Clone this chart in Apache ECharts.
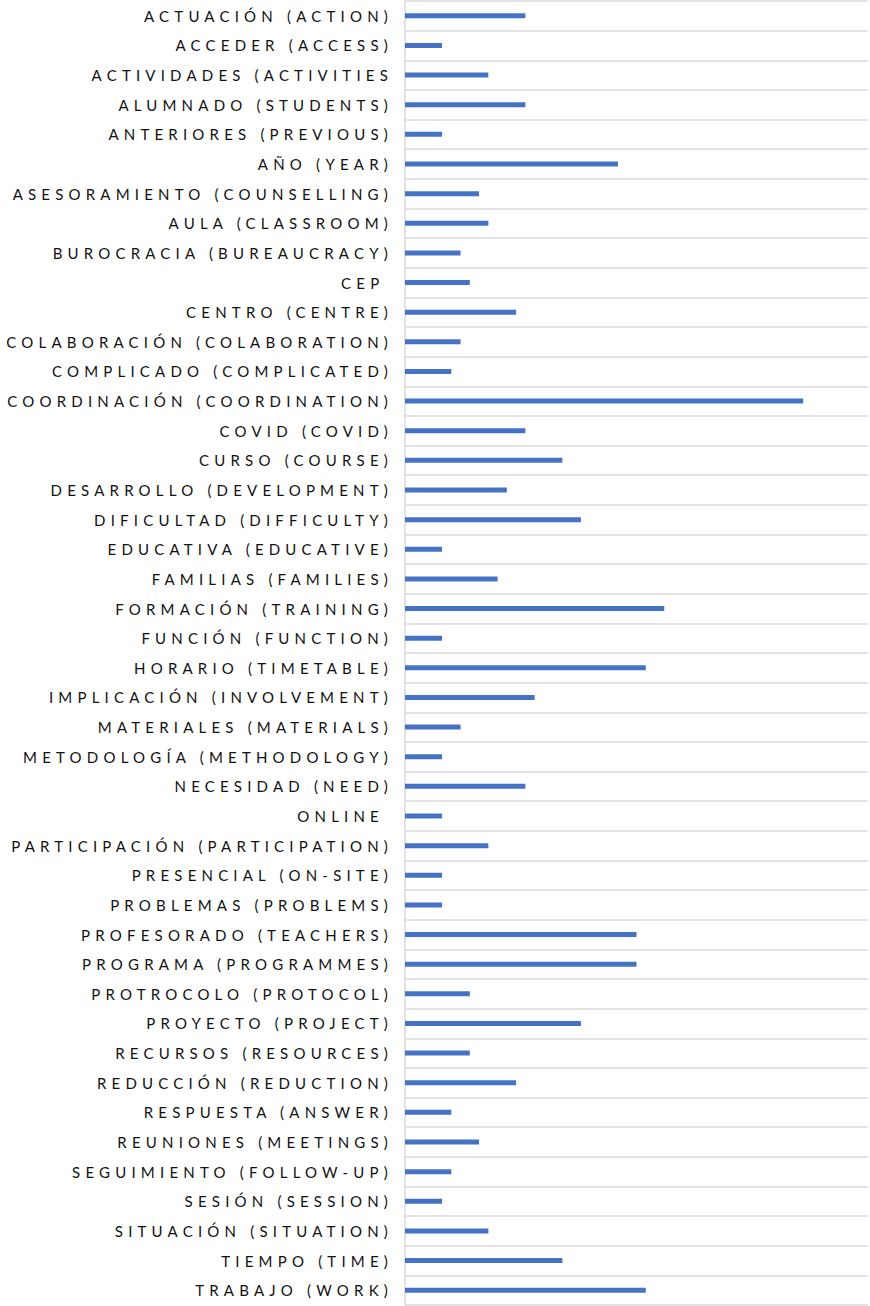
<!DOCTYPE html>
<html>
<head>
<meta charset="utf-8">
<script src="https://cdn.jsdelivr.net/npm/echarts@6/dist/echarts.min.js"></script>
<style>
html,body{margin:0;padding:0;background:#fff;}
#chart{width:870px;height:1306px;letter-spacing:5.2px;}
#chart text{white-space:pre;}
</style>
</head>
<body>
<div id="chart"></div>
<script>
const categories = [
  "ACTUACIÓN (ACTION)","ACCEDER (ACCESS)","ACTIVIDADES (ACTIVITIES","ALUMNADO (STUDENTS)",
  "ANTERIORES (PREVIOUS)","AÑO (YEAR)","ASESORAMIENTO (COUNSELLING)","AULA (CLASSROOM)",
  "BUROCRACIA (BUREAUCRACY)","CEP ","CENTRO (CENTRE)","COLABORACIÓN (COLABORATION)",
  "COMPLICADO (COMPLICATED)","COORDINACIÓN (COORDINATION)","COVID (COVID)","CURSO (COURSE)",
  "DESARROLLO (DEVELOPMENT)","DIFICULTAD (DIFFICULTY)","EDUCATIVA (EDUCATIVE)","FAMILIAS (FAMILIES)",
  "FORMACIÓN (TRAINING)","FUNCIÓN (FUNCTION)","HORARIO (TIMETABLE)","IMPLICACIÓN (INVOLVEMENT)",
  "MATERIALES (MATERIALS)","METODOLOGÍA (METHODOLOGY)","NECESIDAD (NEED)","ONLINE ",
  "PARTICIPACIÓN (PARTICIPATION)","PRESENCIAL (ON-SITE)","PROBLEMAS (PROBLEMS)","PROFESORADO (TEACHERS)",
  "PROGRAMA (PROGRAMMES)","PROTROCOLO (PROTOCOL)","PROYECTO (PROJECT)","RECURSOS (RESOURCES)",
  "REDUCCIÓN (REDUCTION)","RESPUESTA (ANSWER)","REUNIONES (MEETINGS)","SEGUIMIENTO (FOLLOW-UP)",
  "SESIÓN (SESSION)","SITUACIÓN (SITUATION)","TIEMPO (TIME)","TRABAJO (WORK)"
];
const frequencies = [
  13,4,9,13,
  4,23,8,9,
  6,7,12,6,
  5,43,13,17,
  11,19,4,10,
  28,4,26,14,
  6,4,13,4,
  9,4,4,25,
  25,7,19,7,
  12,5,8,5,
  4,9,17,26
];
const axisMax = 50;

const chart = echarts.init(document.getElementById('chart'), null, {renderer:'svg'});
chart.setOption({
  animation:false,
  grid:{left:405,right:2,top:1,bottom:1,containLabel:false},
  xAxis:{type:'value',min:0,max:axisMax,axisLabel:{show:false},axisLine:{show:false},axisTick:{show:false},splitLine:{show:false}},
  yAxis:{
    type:'category',data:categories,inverse:true,
    axisLine:{show:true,lineStyle:{color:'#d9d9d9',width:1.5}},
    axisTick:{show:false},
    splitLine:{show:true,lineStyle:{color:'#d9d9d9',width:1.5}},
    axisLabel:{color:'#111111',fontFamily:'Lato',fontSize:15,margin:12,interval:0}
  },
  series:[{type:'bar',data:frequencies,barWidth:5,itemStyle:{color:'#4472C4'}}]
});
</script>
</body>
</html>
